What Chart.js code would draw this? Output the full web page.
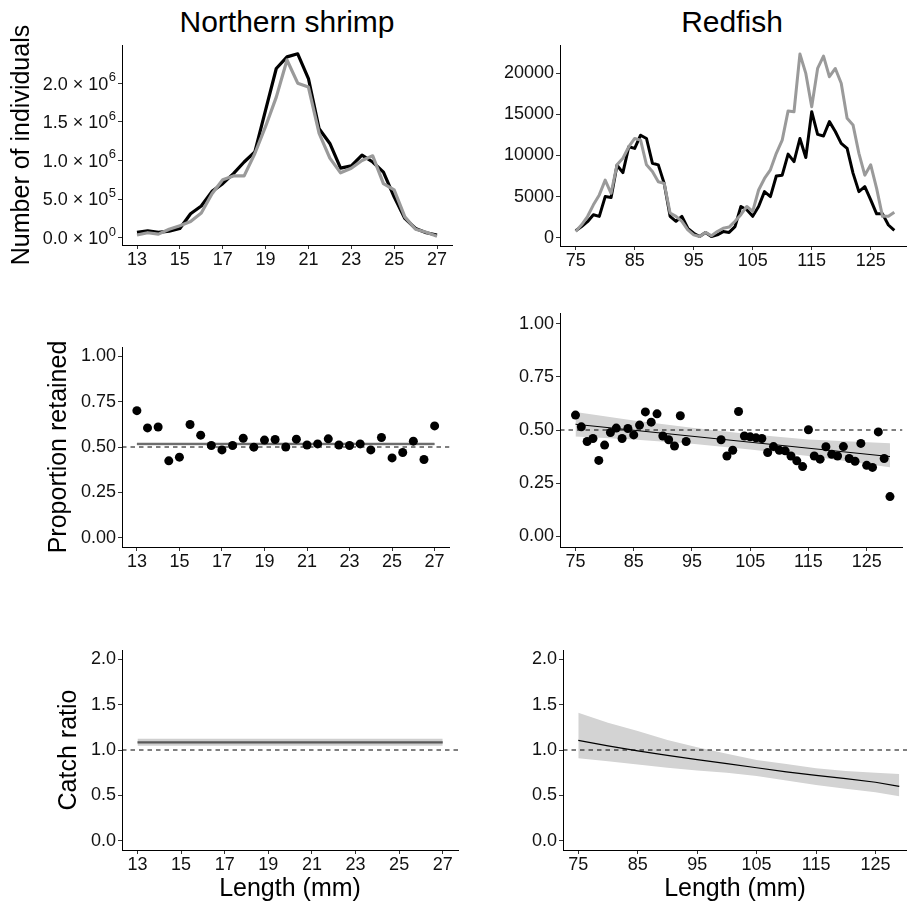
<!DOCTYPE html>
<html>
<head>
<meta charset="utf-8">
<title>Northern shrimp and redfish: catch, proportion retained and catch ratio by length</title>
<script src="https://cdn.jsdelivr.net/npm/chart.js@4.4.1/dist/chart.umd.min.js"></script>
<style>
  html, body { margin: 0; padding: 0; background: #fff; }
  #figure { position: relative; width: 907px; height: 907px; overflow: hidden; background: #fff; }
  #figure canvas { position: absolute; }
  .col-title {
    position: absolute; top: 7px;
    font: 30px 'Liberation Sans', Arial, Helvetica, sans-serif;
    line-height: 30px; color: #000; white-space: nowrap;
    transform: translateX(-50%);
  }
</style>
</head>
<body>
<div id="figure">
  <div class="col-title" style="left:287px">Northern shrimp</div>
  <div class="col-title" style="left:732px">Redfish</div>
</div>

<script>
// ---- Northern shrimp: length classes (mm) ----
const shrimpLengths = [13, 13.5, 14, 14.5, 15, 15.5, 16, 16.5, 17, 17.5, 18, 18.5, 19, 19.5, 20,
  20.5, 21, 21.5, 22, 22.5, 23, 23.5, 24, 24.5, 25, 25.5, 26, 26.5, 27];

// number of individuals caught, test codend (black) and control codend (grey)
const shrimpCountBlack = [69000, 90000, 69000, 85000, 120000, 310000, 410000, 600000, 700000,
  830000, 980000, 1110000, 1650000, 2190000, 2340000, 2380000, 2060000, 1410000, 1220000,
  900000, 930000, 1070000, 980000, 850000, 530000, 250000, 120000, 65000, 35000];
const shrimpCountGrey = [35000, 65000, 47000, 110000, 155000, 210000, 320000, 570000, 750000,
  800000, 800000, 1090000, 1440000, 1820000, 2300000, 2000000, 1950000, 1350000, 1030000,
  840000, 900000, 1000000, 1060000, 700000, 620000, 270000, 110000, 70000, 20000];

// observed proportion retained per length class
const shrimpRetained = [0.70, 0.605, 0.61, 0.424, 0.444, 0.624, 0.565, 0.508, 0.484, 0.508,
  0.548, 0.499, 0.538, 0.541, 0.50, 0.543, 0.511, 0.517, 0.545, 0.511, 0.508, 0.517, 0.484,
  0.552, 0.44, 0.47, 0.532, 0.431, 0.616];

// fitted proportion (flat) with confidence band
const shrimpFitLengths = [13, 27];
const shrimpRetFit = [0.517, 0.517];
const shrimpRetUpper = [0.526, 0.526];
const shrimpRetLower = [0.508, 0.508];

// catch ratio with confidence band
const shrimpRatio = [1.083, 1.083];
const shrimpRatioUpper = [1.124, 1.124];
const shrimpRatioLower = [1.047, 1.047];

// ---- Redfish: length classes (mm) ----
const redfishLengths = [75, 76, 77, 78, 79, 80, 81, 82, 83, 84, 85, 86, 87, 88, 89, 90, 91, 92,
  93, 94, 95, 96, 97, 98, 99, 100, 101, 102, 103, 104, 105, 106, 107, 108, 109, 110, 111, 112,
  113, 114, 115, 116, 117, 118, 119, 120, 121, 122, 123, 124, 125, 126, 127, 128, 129];

const redfishCountBlack = [850, 1370, 1950, 2800, 2600, 5000, 4900, 8800, 7900, 11050, 10850,
  12450, 12050, 9050, 8850, 6600, 2600, 2000, 2600, 1150, 550, 150, 650, 150, 350, 750, 650,
  1350, 3800, 3400, 2600, 3800, 5600, 5000, 7500, 7600, 10150, 9250, 12050, 9750, 15300,
  12550, 12350, 14100, 12900, 11450, 10850, 7850, 5600, 6200, 4600, 2900, 2900, 1550, 900];
const redfishCountGrey = [770, 1570, 2580, 4000, 5200, 7000, 5400, 8850, 9650, 11050, 12050,
  11850, 8850, 8050, 6800, 6600, 3000, 2600, 2000, 950, 350, 150, 650, 250, 750, 1150, 1300,
  2000, 2800, 3800, 3200, 5800, 7200, 8250, 10250, 11850, 15400, 15300, 22300, 19950, 15900,
  20550, 22050, 19550, 20550, 18750, 14500, 13700, 10250, 7600, 8850, 6000, 2600, 2600, 3100];

// length classes with an observed proportion (none between 95 and 99 mm)
const redfishRetLengths = [75, 76, 77, 78, 79, 80, 81, 82, 83, 84, 85, 86, 87, 88, 89, 90, 91,
  92, 93, 94, 100, 101, 102, 103, 104, 105, 106, 107, 108, 109, 110, 111, 112, 113, 114, 115,
  116, 117, 118, 119, 120, 121, 122, 123, 124, 125, 126, 127, 128, 129];
const redfishRetained = [0.570, 0.515, 0.446, 0.46, 0.357, 0.429, 0.488, 0.509, 0.46, 0.507,
  0.477, 0.523, 0.585, 0.537, 0.576, 0.472, 0.454, 0.425, 0.567, 0.446, 0.454, 0.378, 0.405,
  0.587, 0.472, 0.468, 0.463, 0.46, 0.394, 0.422, 0.405, 0.402, 0.378, 0.355, 0.328, 0.501,
  0.378, 0.363, 0.421, 0.386, 0.378, 0.422, 0.366, 0.353, 0.437, 0.334, 0.324, 0.491, 0.366,
  0.187];

const redfishFitLengths = [75, 129];
const redfishRetFit = [0.527, 0.375];
const redfishBandLengths = [75, 85, 95, 105, 115, 129];
const redfishRetUpper = [0.585, 0.545, 0.510, 0.480, 0.455, 0.438];
const redfishRetLower = [0.470, 0.455, 0.435, 0.408, 0.378, 0.325];

const redfishRatioLengths = [75, 80, 85, 90, 95, 100, 105, 110, 115, 120, 125, 129];
const redfishRatio = [1.105, 1.045, 0.99, 0.94, 0.895, 0.85, 0.805, 0.76, 0.72, 0.685, 0.645, 0.60];
const redfishRatioUpper = [1.41, 1.30, 1.21, 1.11, 1.03, 0.96, 0.89, 0.845, 0.80, 0.77, 0.75, 0.735];
const redfishRatioLower = [0.91, 0.875, 0.84, 0.805, 0.775, 0.75, 0.715, 0.665, 0.615, 0.575, 0.535, 0.49];

// ---- axis ticks ----
const shrimpTicks = [13, 15, 17, 19, 21, 23, 25, 27];
const redfishTicks = [75, 85, 95, 105, 115, 125];
const shrimpCountTicks = [0, 500000, 1000000, 1500000, 2000000];
// scientific labels: mantissa x 10^exponent
const shrimpCountMantissas = ['0.0', '5.0', '1.0', '1.5', '2.0'];
const shrimpCountExponents = ['0', '5', '6', '6', '6'];
const redfishCountTicks = [0, 5000, 10000, 15000, 20000];
const redfishCountLabels = ['0', '5000', '10000', '15000', '20000'];
const proportionTicks = [0, 0.25, 0.5, 0.75, 1];
const proportionLabels = ['0.00', '0.25', '0.50', '0.75', '1.00'];
const ratioTicks = [0, 0.5, 1, 1.5, 2];
const ratioLabels = ['0.0', '0.5', '1.0', '1.5', '2.0'];

const FONT = "'Liberation Sans', Arial, Helvetica, sans-serif";
const TEXT = '#111';
const GREY_LINE = '#9a9a9a';
const BAND = '#d3d3d3';
const TICK_LEN = 4;
const TICK_PAD = 2;

// helpers for datasets
function pts(xs, ys) {
  return xs.map((x, i) => ({ x: x, y: ys[i] }));
}

function lineSet(xs, ys, color, width, order, extra) {
  return Object.assign({
    data: pts(xs, ys),
    borderColor: color,
    borderWidth: width,
    borderJoinStyle: 'round',
    pointRadius: 0,
    tension: 0,
    fill: false,
    order: order
  }, extra || {});
}

// upper + lower edge, filled between them
function bandSets(xs, upper, lower, color) {
  return [
    lineSet(xs, upper, 'rgba(0,0,0,0)', 0, 10, { fill: '+1', backgroundColor: color }),
    lineSet(xs, lower, 'rgba(0,0,0,0)', 0, 10)
  ];
}

function refLine(xMin, xMax, y) {
  return lineSet([xMin, xMax], [y, y], '#000', 1, 5, { borderDash: [4.5, 4] });
}

function pointSet(xs, ys) {
  return {
    data: pts(xs, ys),
    showLine: false,
    pointRadius: 4.5,
    pointBackgroundColor: '#000',
    pointBorderColor: '#000',
    pointBorderWidth: 0,
    order: 1
  };
}

// y tick labels written as "m x 10" with a raised exponent
const powerTickLabels = {
  id: 'powerTickLabels',
  afterDraw(chart) {
    const scale = chart.scales.y;
    const ctx = chart.ctx;
    const right = scale.right - TICK_LEN - TICK_PAD;
    ctx.save();
    ctx.fillStyle = TEXT;
    ctx.textAlign = 'right';
    ctx.textBaseline = 'alphabetic';
    scale.ticks.forEach((t, i) => {
      const base = scale.getPixelForValue(t.value) + 6.4;
      ctx.font = '13px ' + FONT;
      const exp = shrimpCountExponents[i];
      const expWidth = ctx.measureText(exp).width;
      ctx.fillText(exp, right, base - 8.5);
      ctx.font = '18px ' + FONT;
      ctx.fillText(shrimpCountMantissas[i] + ' \u00d7 10', right - expWidth - 0.5, base);
    });
    ctx.restore();
  }
};

/**
 * Build one panel. `area` is the plotting area in page pixels; the canvas
 * is laid out around it so the axes land where they should.
 */
function drawPanel(p) {
  const padTop = p.padTop || 16;
  const padRight = p.area.right >= 907 ? 0 : 2;
  const xAxisH = p.xTitle ? 907 - p.area.bottom : 30;

  const canvas = document.createElement('canvas');
  canvas.width = p.area.right + padRight - p.canvasLeft;
  canvas.height = padTop + (p.area.bottom - p.area.top) + xAxisH;
  canvas.style.left = p.canvasLeft + 'px';
  canvas.style.top = (p.area.top - padTop) + 'px';
  document.getElementById('figure').appendChild(canvas);

  const tickFont = { family: FONT, size: 18 };
  const axisGrid = { display: true, drawOnChartArea: false, drawTicks: true, tickLength: TICK_LEN, tickColor: '#333', tickWidth: 1 };
  const axisBorder = { display: true, color: '#000', width: 1 };

  return new Chart(canvas.getContext('2d'), {
    type: 'line',
    data: { datasets: p.datasets },
    plugins: p.plugins || [],
    options: {
      responsive: false,
      animation: false,
      events: [],
      layout: { padding: { top: padTop, right: padRight, left: 0, bottom: 0 } },
      plugins: { legend: { display: false }, tooltip: { enabled: false } },
      scales: {
        x: {
          type: 'linear',
          min: p.xMin,
          max: p.xMax,
          afterBuildTicks: s => { s.ticks = p.xTicks.map(v => ({ value: v })); },
          afterFit: s => { s.height = xAxisH; },
          ticks: { callback: v => String(v), font: tickFont, color: TEXT, padding: 0, maxRotation: 0, autoSkip: false },
          grid: axisGrid,
          border: axisBorder,
          title: {
            display: !!p.xTitle,
            text: p.xTitle || '',
            font: { family: FONT, size: 25 },
            color: '#000',
            padding: { top: 0, bottom: 2.4 }
          }
        },
        y: {
          type: 'linear',
          min: p.yMin,
          max: p.yMax,
          afterBuildTicks: s => { s.ticks = p.yTicks.map(v => ({ value: v })); },
          afterFit: s => { s.width = p.area.left - p.canvasLeft; },
          ticks: {
            callback: (v, i) => (p.yLabels ? p.yLabels[i] : ''),
            font: tickFont, color: TEXT, padding: TICK_PAD, autoSkip: false
          },
          grid: axisGrid,
          border: axisBorder,
          title: {
            display: !!p.yTitle,
            text: p.yTitle || '',
            font: { family: FONT, size: 25 },
            color: '#000',
            padding: { top: p.yTitleOffset || 0, bottom: 0 }
          }
        }
      }
    }
  });
}

// ---- Northern shrimp column ----
drawPanel({
  area: { left: 122, top: 45, right: 452, bottom: 245 },
  canvasLeft: 0, padTop: 30,
  xMin: 12.3, xMax: 27.7, xTicks: shrimpTicks,
  yMin: -94000, yMax: 2494000, yTicks: shrimpCountTicks, yLabels: null,
  plugins: [powerTickLabels],
  yTitle: 'Number of individuals', yTitleOffset: 7,
  datasets: [
    lineSet(shrimpLengths, shrimpCountBlack, '#000', 3.2, 2),
    lineSet(shrimpLengths, shrimpCountGrey, GREY_LINE, 3.2, 1)
  ]
});

drawPanel({
  area: { left: 122, top: 347, right: 452, bottom: 547 },
  canvasLeft: 0,
  xMin: 12.3, xMax: 27.7, xTicks: shrimpTicks,
  yMin: -0.05, yMax: 1.05, yTicks: proportionTicks, yLabels: proportionLabels,
  yTitle: 'Proportion retained', yTitleOffset: 44,
  datasets: [
    ...bandSets(shrimpFitLengths, shrimpRetUpper, shrimpRetLower, '#cfcfcf'),
    refLine(12.3, 27.7, 0.5),
    lineSet(shrimpFitLengths, shrimpRetFit, '#4d4d4d', 1.5, 3),
    pointSet(shrimpLengths, shrimpRetained)
  ]
});

drawPanel({
  area: { left: 122, top: 650, right: 458, bottom: 850 },
  canvasLeft: 0,
  xMin: 12.29, xMax: 27.7, xTicks: shrimpTicks,
  yMin: -0.1, yMax: 2.1, yTicks: ratioTicks, yLabels: ratioLabels,
  yTitle: 'Catch ratio', yTitleOffset: 54.6,
  xTitle: 'Length (mm)',
  datasets: [
    ...bandSets(shrimpFitLengths, shrimpRatioUpper, shrimpRatioLower, '#cfcfcf'),
    refLine(12.29, 27.7, 1),
    lineSet(shrimpFitLengths, shrimpRatio, '#595959', 2.3, 3)
  ]
});

// ---- Redfish column ----
drawPanel({
  area: { left: 560, top: 45, right: 907, bottom: 246 },
  canvasLeft: 480,
  xMin: 72.34, xMax: 131.15, xTicks: redfishTicks,
  yMin: -1000, yMax: 23400, yTicks: redfishCountTicks, yLabels: redfishCountLabels,
  datasets: [
    lineSet(redfishLengths, redfishCountBlack, '#000', 3, 2),
    lineSet(redfishLengths, redfishCountGrey, GREY_LINE, 3, 1)
  ]
});

drawPanel({
  area: { left: 560, top: 313, right: 907, bottom: 547 },
  canvasLeft: 480,
  xMin: 72.34, xMax: 131.15, xTicks: redfishTicks,
  yMin: -0.05, yMax: 1.05, yTicks: proportionTicks, yLabels: proportionLabels,
  datasets: [
    ...bandSets(redfishBandLengths, redfishRetUpper, redfishRetLower, BAND),
    refLine(72.34, 131.15, 0.5),
    lineSet(redfishFitLengths, redfishRetFit, '#000', 1, 3),
    pointSet(redfishRetLengths, redfishRetained)
  ]
});

drawPanel({
  area: { left: 563, top: 650, right: 907, bottom: 850 },
  canvasLeft: 480,
  xMin: 72.43, xMax: 130.3, xTicks: redfishTicks,
  yMin: -0.1, yMax: 2.1, yTicks: ratioTicks, yLabels: ratioLabels,
  xTitle: 'Length (mm)',
  datasets: [
    ...bandSets(redfishRatioLengths, redfishRatioUpper, redfishRatioLower, BAND),
    refLine(72.43, 130.3, 1),
    lineSet(redfishRatioLengths, redfishRatio, '#000', 1.2, 3)
  ]
});
</script>
</body>
</html>
